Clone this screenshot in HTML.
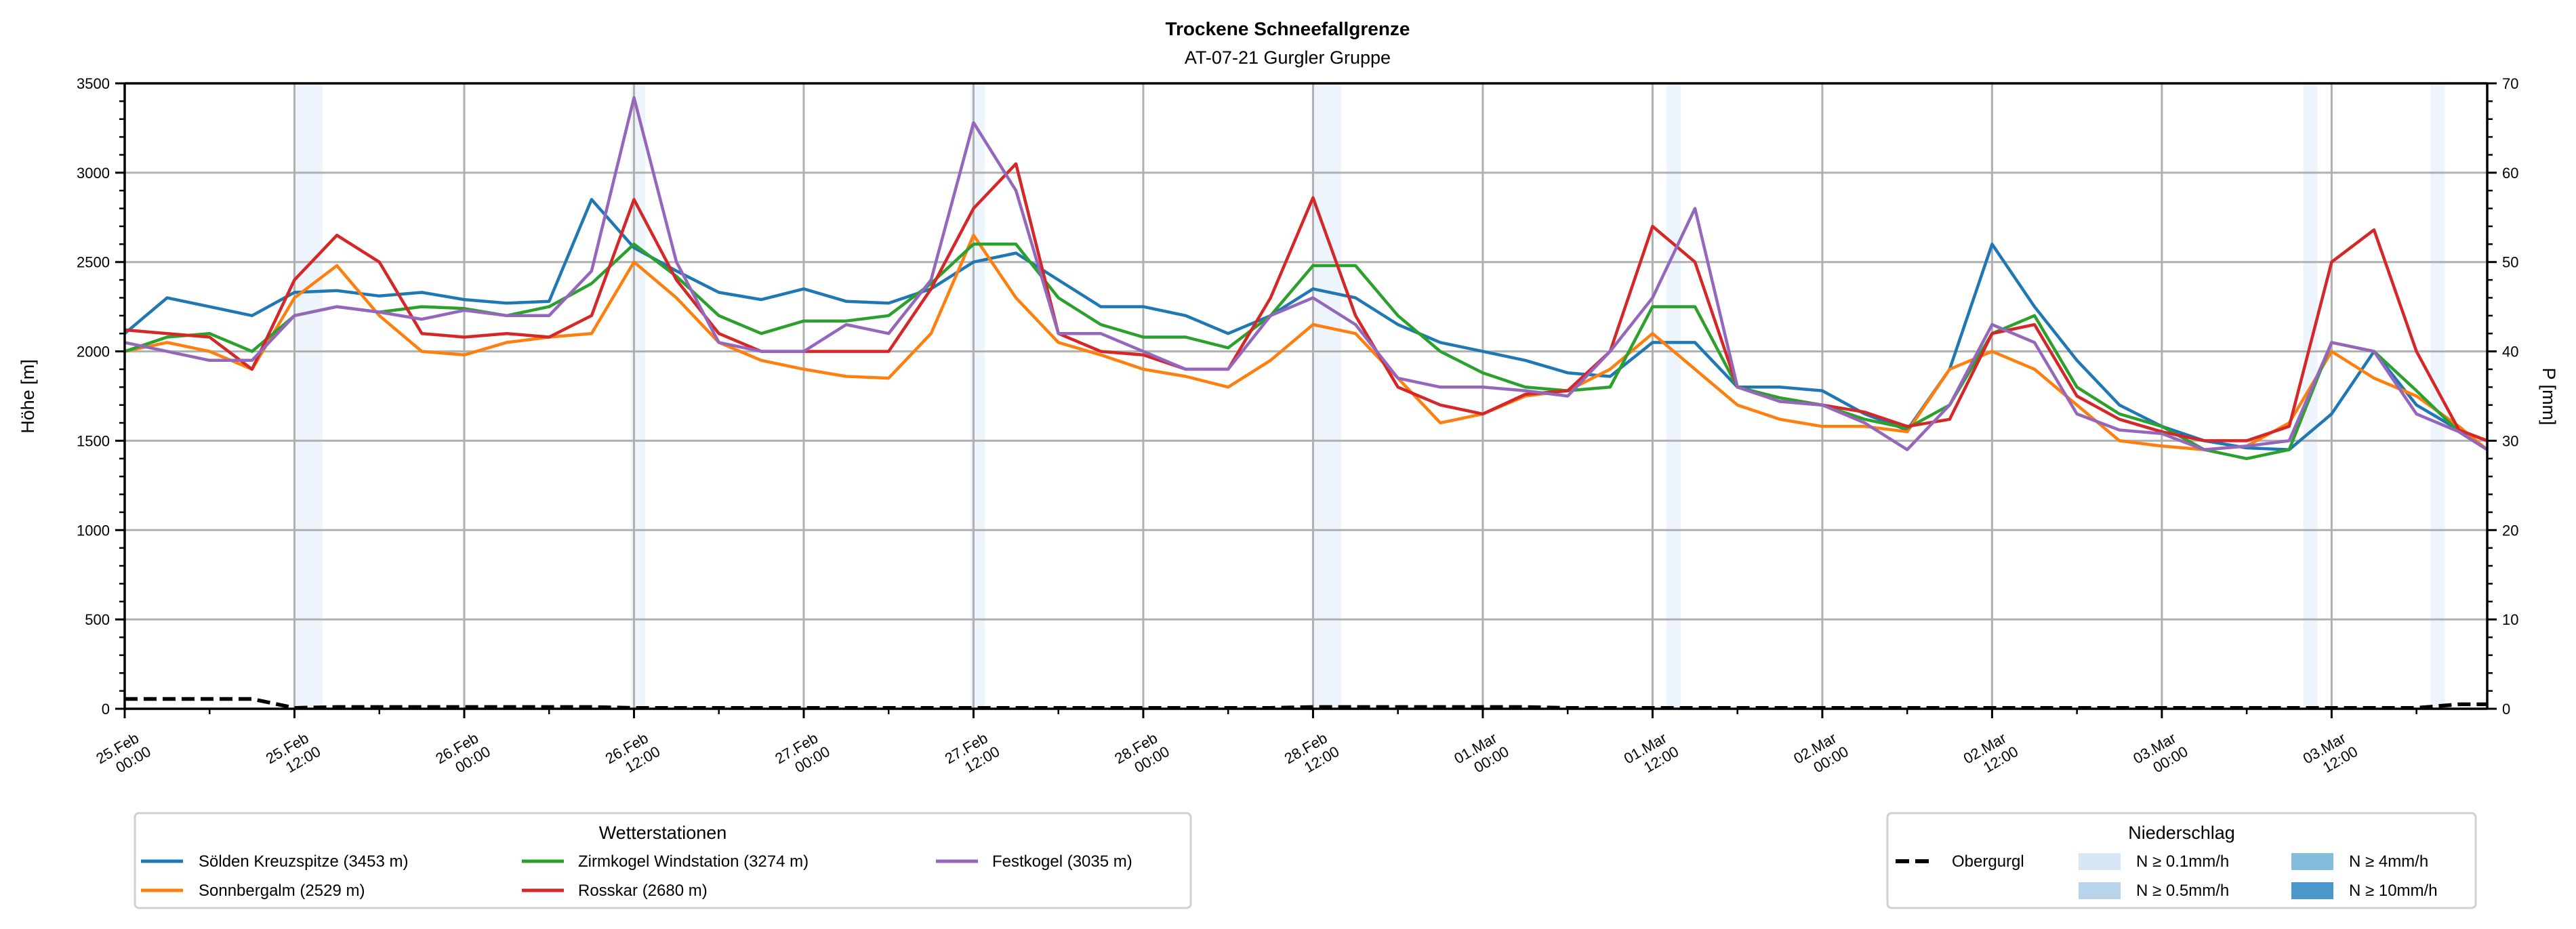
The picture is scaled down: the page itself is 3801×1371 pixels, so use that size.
<!DOCTYPE html>
<html><head><meta charset="utf-8"><style>
html,body{margin:0;padding:0;background:#fff;}
svg{display:block;font-family:"Liberation Sans",sans-serif;}
</style></head><body>
<svg id="chart" width="3801" height="1371" viewBox="0 0 3801 1371" xmlns="http://www.w3.org/2000/svg">
<text x="1900" y="52" text-anchor="middle" font-size="28" font-weight="bold">Trockene Schneefallgrenze</text>
<text x="1900" y="94" text-anchor="middle" font-size="27">AT-07-21 Gurgler Gruppe</text>
<g id="bands"></g>
<g id="grid"></g>
<g id="series"></g>
<g id="axes"></g>
<text transform="translate(50,585) rotate(-90)" text-anchor="middle" font-size="27">Höhe [m]</text>
<text transform="translate(3752,585) rotate(90)" text-anchor="middle" font-size="27">P [mm]</text>
<g>
<rect x="199" y="1200" width="1558" height="140" rx="6" fill="#fff" stroke="#d0d0d0" stroke-width="3"/>
<text x="978" y="1238" text-anchor="middle" font-size="27">Wetterstationen</text>
<g><line x1="208" y1="1271" x2="270" y2="1271" stroke="#1f77b4" stroke-width="5"/><text x="293" y="1279" font-size="24">Sölden Kreuzspitze (3453 m)</text></g>
<g><line x1="208" y1="1314" x2="270" y2="1314" stroke="#ff7f0e" stroke-width="5"/><text x="293" y="1322" font-size="24">Sonnbergalm (2529 m)</text></g>
<g><line x1="770" y1="1271" x2="832" y2="1271" stroke="#2ca02c" stroke-width="5"/><text x="853" y="1279" font-size="24">Zirmkogel Windstation (3274 m)</text></g>
<g><line x1="770" y1="1314" x2="832" y2="1314" stroke="#d62728" stroke-width="5"/><text x="853" y="1322" font-size="24">Rosskar (2680 m)</text></g>
<g><line x1="1381" y1="1271" x2="1443" y2="1271" stroke="#9467bd" stroke-width="5"/><text x="1464" y="1279" font-size="24">Festkogel (3035 m)</text></g>
</g>
<g>
<rect x="2785" y="1200" width="868" height="140" rx="6" fill="#fff" stroke="#d0d0d0" stroke-width="3"/>
<text x="3219" y="1238" text-anchor="middle" font-size="27">Niederschlag</text>
<g><line x1="2797" y1="1271" x2="2855" y2="1271" stroke="#000" stroke-width="6" stroke-dasharray="20,9"/><text x="2880" y="1279" font-size="24">Obergurgl</text></g>
<g><rect x="3067" y="1259" width="62" height="25" fill="#d6e6f4"/><text x="3152" y="1279" font-size="24">N ≥ 0.1mm/h</text></g>
<g><rect x="3067" y="1302" width="62" height="25" fill="#b7d4ea"/><text x="3152" y="1322" font-size="24">N ≥ 0.5mm/h</text></g>
<g><rect x="3381" y="1259" width="62" height="25" fill="#84bcdb"/><text x="3466" y="1279" font-size="24">N ≥ 4mm/h</text></g>
<g><rect x="3381" y="1302" width="62" height="25" fill="#4a98c9"/><text x="3466" y="1322" font-size="24">N ≥ 10mm/h</text></g>
</g>
</svg>
<script>
const hours=[0,3,6,9,12,15,18,21,24,27,30,33,36,39,42,45,48,51,54,57,60,63,66,69,72,75,78,81,84,87,90,93,96,99,102,105,108,111,114,117,120,123,126,129,132,135,138,141,144,147,150,153,156,159,162,165,167];
const soelden=[2100,2300,2250,2200,2330,2340,2310,2330,2290,2270,2280,2850,2580,2450,2330,2290,2350,2280,2270,2350,2500,2550,2400,2250,2250,2200,2100,2200,2350,2300,2150,2050,2000,1950,1880,1860,2050,2050,1800,1800,1780,1650,1560,1900,2600,2250,1950,1700,1580,1500,1460,1450,1650,2000,1700,1560,1500];
const sonnbergalm=[2000,2050,2000,1900,2300,2480,2200,2000,1980,2050,2080,2100,2500,2300,2050,1950,1900,1860,1850,2100,2650,2300,2050,1980,1900,1860,1800,1950,2150,2100,1850,1600,1650,1750,1780,1900,2100,1900,1700,1620,1580,1580,1550,1900,2000,1900,1700,1500,1470,1450,1470,1600,2000,1850,1750,1580,1450];
const zirmkogel=[2000,2080,2100,2000,2200,2250,2220,2250,2240,2200,2250,2380,2600,2420,2200,2100,2170,2170,2200,2380,2600,2600,2300,2150,2080,2080,2020,2200,2480,2480,2200,2000,1880,1800,1780,1800,2250,2250,1800,1740,1700,1620,1570,1700,2100,2200,1800,1650,1580,1450,1400,1450,2050,2000,1780,1550,1450];
const rosskar=[2120,2100,2080,1900,2400,2650,2500,2100,2080,2100,2080,2200,2850,2400,2100,2000,2000,2000,2000,2350,2800,3050,2100,2000,1980,1900,1900,2300,2860,2200,1800,1700,1650,1760,1780,2000,2700,2500,1800,1720,1700,1660,1580,1620,2100,2150,1750,1620,1550,1500,1500,1580,2500,2680,2000,1560,1500];
const festkogel=[2050,2000,1950,1950,2200,2250,2220,2180,2230,2200,2200,2450,3420,2500,2050,2000,2000,2150,2100,2400,3280,2900,2100,2100,2000,1900,1900,2200,2300,2150,1850,1800,1800,1780,1750,2000,2300,2800,1800,1720,1700,1600,1450,1700,2150,2050,1650,1560,1540,1450,1470,1500,2050,2000,1650,1550,1450];
const obergurgl=[1.1,1.1,1.1,1.1,0.1,0.2,0.2,0.2,0.2,0.2,0.2,0.2,0.1,0.1,0.1,0.1,0.1,0.1,0.1,0.1,0.1,0.1,0.1,0.1,0.1,0.1,0.1,0.1,0.2,0.2,0.2,0.2,0.2,0.2,0.1,0.1,0.1,0.1,0.1,0.1,0.1,0.1,0.1,0.1,0.1,0.1,0.1,0.1,0.1,0.1,0.1,0.1,0.1,0.1,0.1,0.5,0.5];
const bandStart=[12,35.8,59.8,84,109,154,163];
const bandEnd=[14,36.8,60.8,86,110,155,164];
const xTickLabels=["25.Feb","25.Feb","26.Feb","26.Feb","27.Feb","27.Feb","28.Feb","28.Feb","01.Mar","01.Mar","02.Mar","02.Mar","03.Mar","03.Mar"];
const xTickTimes=["00:00","12:00"];
const yTicks=[0,500,1000,1500,2000,2500,3000,3500];
const y2Ticks=[0,10,20,30,40,50,60,70];

const L=184,R=3670,T=123,B=1046,HMAX=167;
const NS="http://www.w3.org/2000/svg";
const xs=h=>L+h*(R-L)/HMAX;
const ys=v=>B-v*(B-T)/3500;
const y2s=v=>B-v*(B-T)/70;
function mk(tag,attrs,parent){const e=document.createElementNS(NS,tag);for(const k in attrs)e.setAttribute(k,attrs[k]);parent.appendChild(e);return e;}
const gb=document.getElementById('bands'),gg=document.getElementById('grid'),gs=document.getElementById('series'),ga=document.getElementById('axes');
bandStart.forEach((s,i)=>{const r=mk('rect',{x:xs(s),y:T,width:xs(bandEnd[i])-xs(s),height:B-T,fill:'#eef4fb'},gb);

});
yTicks.forEach(v=>{if(v>0&&v<3500){const l=mk('line',{x1:L,x2:R,y1:ys(v),y2:ys(v),stroke:'#b0b0b0','stroke-width':3},gg);

}});
xTickLabels.forEach((lab,i)=>{const x=xs(i*12);
if(i>0){const l=mk('line',{x1:x,x2:x,y1:T,y2:B,stroke:'#b0b0b0','stroke-width':3},gg);

}
mk('line',{x1:x,x2:x,y1:B,y2:B+14,stroke:'#000','stroke-width':3},ga);
mk('line',{x1:xs(i*12+6),x2:xs(i*12+6),y1:B,y2:B+8,stroke:'#000','stroke-width':2.5},ga);
const t=mk('text',{transform:`translate(${x-4},${B+70}) rotate(-30)`,'text-anchor':'middle','font-size':22},ga);


mk('tspan',{x:0,dy:-6},t).textContent=lab;
mk('tspan',{x:12,dy:26},t).textContent=xTickTimes[i%2];});
const series=[[soelden,'#1f77b4','series-soelden'],[sonnbergalm,'#ff7f0e','series-sonnbergalm'],[zirmkogel,'#2ca02c','series-zirmkogel'],[rosskar,'#d62728','series-rosskar'],[festkogel,'#9467bd','series-festkogel']];
series.forEach(([d,c,n])=>{const pts=hours.map((h,i)=>xs(h).toFixed(1)+','+ys(d[i]).toFixed(1)).join(' ');
const p=mk('polyline',{points:pts,fill:'none',stroke:c,'stroke-width':4.5,'stroke-linejoin':'round'},gs);

});
const op=mk('polyline',{points:hours.map((h,i)=>xs(h).toFixed(1)+','+y2s(obergurgl[i]).toFixed(1)).join(' '),fill:'none',stroke:'#000','stroke-width':5.5,'stroke-dasharray':'19,9'},gs);


mk('line',{x1:L,x2:L,y1:T,y2:B,stroke:'#000','stroke-width':3.5},ga);
mk('line',{x1:R,x2:R,y1:T,y2:B,stroke:'#000','stroke-width':3.5},ga);
mk('line',{x1:L,x2:R,y1:T,y2:T,stroke:'#000','stroke-width':3.5},ga);
mk('line',{x1:L,x2:R,y1:B,y2:B,stroke:'#000','stroke-width':3.5},ga);
for(let v=0;v<=3500;v+=100){const big=v%500===0;mk('line',{x1:L-(big?14:8),x2:L,y1:ys(v),y2:ys(v),stroke:'#000','stroke-width':big?3:2.5},ga);}
yTicks.forEach(v=>{const t=mk('text',{x:L-22,y:ys(v)+8,'text-anchor':'end','font-size':22},ga);t.textContent=v;

});
for(let v=0;v<=70;v+=2){const big=v%10===0;mk('line',{x1:R,x2:R+(big?14:8),y1:y2s(v),y2:y2s(v),stroke:'#000','stroke-width':big?3:2.5},ga);}
y2Ticks.forEach(v=>{const t=mk('text',{x:R+22,y:y2s(v)+8,'text-anchor':'start','font-size':22},ga);t.textContent=v;

});
</script>
</body></html>
